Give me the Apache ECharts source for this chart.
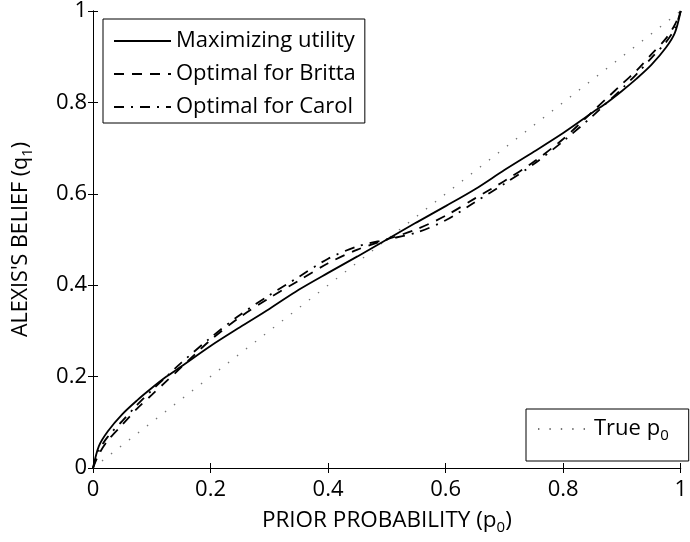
<!DOCTYPE html>
<html>
<head>
<meta charset="utf-8">
<script src="https://cdn.jsdelivr.net/npm/echarts@6/dist/echarts.min.js"></script>
<style>
  html, body { margin: 0; padding: 0; background: #fff; }
  #chart { width: 690px; height: 542px; }
</style>
</head>
<body>
<div id="chart"></div>
<script>
// Prior probability grid (p0)
const priorP = [0, 0.01, 0.025, 0.05, 0.075, 0.1, 0.125, 0.15, 0.2, 0.25, 0.3, 0.35, 0.4, 0.45, 0.5,
                0.55, 0.6, 0.65, 0.7, 0.75, 0.8, 0.85, 0.875, 0.9, 0.925, 0.95, 0.975, 0.99, 1];

// Alexis's belief q1 under each reporting rule
const maxUtility = [0, 0.048, 0.08, 0.118, 0.148, 0.175, 0.2, 0.222, 0.267, 0.308, 0.348, 0.39, 0.427, 0.463, 0.5,
                    0.537, 0.573, 0.61, 0.652, 0.692, 0.733, 0.778, 0.8, 0.825, 0.852, 0.882, 0.92, 0.952, 1];
const optimalBritta = [0, 0.03, 0.06, 0.095, 0.13, 0.16, 0.19, 0.22, 0.28, 0.33, 0.372, 0.41, 0.448, 0.478, 0.5,
                       0.522, 0.552, 0.59, 0.628, 0.67, 0.72, 0.78, 0.81, 0.84, 0.87, 0.905, 0.94, 0.97, 1];
const optimalCarol = [0, 0.038, 0.068, 0.103, 0.138, 0.17, 0.2, 0.23, 0.285, 0.335, 0.378, 0.418, 0.458, 0.485, 0.5,
                      0.515, 0.542, 0.582, 0.622, 0.665, 0.715, 0.77, 0.8, 0.83, 0.862, 0.897, 0.932, 0.962, 1];

// Reference diagonal: belief equal to the prior
const trueP = [0, 1];
const trueQ = [0, 1];

const FONT = 'Open Sans';
const pair = (xs, ys) => xs.map((x, i) => [x, ys[i]]);

const chart = echarts.init(document.getElementById('chart'), null, { renderer: 'canvas' });

const axisCommon = {
  type: 'value', min: 0, max: 1, interval: 0.2,
  splitLine: { show: false },
  axisLine: { show: true, lineStyle: { color: '#000', width: 1 } },
  axisTick: { show: true, inside: true, length: 5, lineStyle: { color: '#000', width: 1 } }
};

const subRich = { sub: { fontSize: 15, fontFamily: FONT, color: '#000', padding: [13, 0, 0, 0] } };

// Legend swatches: line only, no marker
const noMarker = { color: 'transparent', borderWidth: 0, opacity: 0 };

chart.setOption({
  backgroundColor: '#fff',
  animation: false,
  grid: { left: 93, top: 10, width: 594, height: 458, show: false },
  xAxis: [
    Object.assign({}, axisCommon, {
      position: 'bottom',
      name: 'PRIOR PROBABILITY (p{sub|0})',
      nameLocation: 'middle', nameGap: 39,
      nameTextStyle: { fontFamily: FONT, fontSize: 22.5, color: '#000', rich: subRich },
      axisLabel: { margin: 11, fontFamily: FONT, fontSize: 22, color: '#000' }
    }),
    Object.assign({}, axisCommon, {
      position: 'top',
      axisLabel: { show: false }
    })
  ],
  yAxis: [
    Object.assign({}, axisCommon, {
      position: 'left',
      name: "ALEXIS'S BELIEF (q{sub|1})",
      nameLocation: 'middle', nameGap: 58,
      nameTextStyle: { fontFamily: FONT, fontSize: 21.5, color: '#000', rich: subRich },
      axisLabel: { margin: 6, fontFamily: FONT, fontSize: 22, color: '#000' }
    }),
    Object.assign({}, axisCommon, {
      position: 'right',
      axisLabel: { show: false }
    })
  ],
  legend: [
    {
      data: ['Maximizing utility', 'Optimal for Britta', 'Optimal for Carol'],
      orient: 'vertical', left: 103, top: 19,
      padding: [11, 9, 5, 10], itemGap: 11,
      itemWidth: 57, itemHeight: 14,
      borderColor: '#000', borderWidth: 1, backgroundColor: '#fff',
      selectedMode: false,
      itemStyle: noMarker,
      textStyle: { fontFamily: FONT, fontSize: 22, color: '#000', lineHeight: 22 }
    },
    {
      data: ['True p0'],
      orient: 'vertical', left: 526, top: 409,
      padding: [9, 20, 18, 11], itemWidth: 51, itemHeight: 14,
      borderColor: '#000', borderWidth: 1, backgroundColor: '#fff',
      selectedMode: false,
      itemStyle: noMarker,
      formatter: () => 'True p{sub|0}',
      textStyle: { fontFamily: FONT, fontSize: 22, color: '#000', lineHeight: 22, rich: subRich }
    }
  ],
  series: [
    {
      name: 'True p0', type: 'line', data: pair(trueP, trueQ),
      showSymbol: false, symbol: 'none', silent: true,
      lineStyle: { color: '#777', width: 1.4, type: [1.4, 10] },
      itemStyle: { color: '#777' }
    },
    {
      name: 'Optimal for Carol', type: 'line', data: pair(priorP, optimalCarol),
      smooth: 0.3, showSymbol: false, symbol: 'none', silent: true,
      lineStyle: { color: '#000', width: 1.8, type: [10, 7, 2, 7] },
      itemStyle: { color: '#000' }
    },
    {
      name: 'Optimal for Britta', type: 'line', data: pair(priorP, optimalBritta),
      smooth: 0.3, showSymbol: false, symbol: 'none', silent: true,
      lineStyle: { color: '#000', width: 1.8, type: [10, 8] },
      itemStyle: { color: '#000' }
    },
    {
      name: 'Maximizing utility', type: 'line', data: pair(priorP, maxUtility),
      smooth: 0.3, showSymbol: false, symbol: 'none', silent: true,
      lineStyle: { color: '#000', width: 1.8, type: 'solid' },
      itemStyle: { color: '#000' }
    }
  ]
});
</script>
</body>
</html>
